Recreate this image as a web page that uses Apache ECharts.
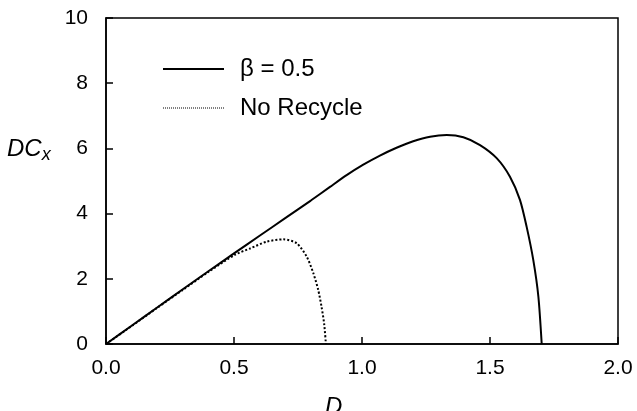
<!DOCTYPE html>
<html><head><meta charset="utf-8">
<script src="https://cdn.jsdelivr.net/npm/echarts@6/dist/echarts.min.js"></script>
<style>html,body{margin:0;padding:0;background:#fff}#c{width:637px;height:411px}</style>
</head><body><div id="c"></div>
<script>
const xTicks = ['0.0','0.5','1.0','1.5','2.0'];
const yTicks = ['0','2','4','6','8','10'];
const seriesNames = ['β = 0.5', 'No Recycle'];
const recycleD  = [0, 0.1, 0.2, 0.3, 0.4, 0.5, 0.6, 0.7, 0.8, 0.875, 0.94, 1.005, 1.07, 1.135, 1.2, 1.266, 1.331, 1.396, 1.461, 1.526, 1.578, 1.617, 1.643, 1.669, 1.689, 1.702];
const recycleDC = [0, 0.56, 1.12, 1.68, 2.23, 2.78, 3.32, 3.86, 4.40, 4.82, 5.18, 5.50, 5.78, 6.02, 6.22, 6.36, 6.41, 6.34, 6.10, 5.70, 5.13, 4.42, 3.60, 2.58, 1.45, 0];
const noRecD  = [0, 0.1, 0.2, 0.3, 0.4, 0.504, 0.5625, 0.628, 0.693, 0.745, 0.784, 0.81, 0.829, 0.842, 0.852, 0.859];
const noRecDC = [0, 0.55, 1.11, 1.66, 2.21, 2.74, 2.93, 3.14, 3.21, 3.09, 2.68, 2.17, 1.66, 1.14, 0.63, 0];

const chart = echarts.init(document.getElementById('c'), null, {renderer: 'canvas'});
const font = 'Liberation Sans, Arial, sans-serif';
chart.setOption({
  animation: false,
  backgroundColor: '#fff',
  grid: {left: 106, right: 19, top: 18, bottom: 67, show: true, borderColor: '#000', borderWidth: 1.5},
  legend: {
    orient: 'vertical', left: 157, top: 52, itemWidth: 61, itemHeight: 14, itemGap: 15,
    itemStyle: {opacity: 0},
    textStyle: {fontFamily: font, fontSize: 24, color: '#000', padding: [0,0,0,11]},
    data: [
      {name: seriesNames[0], lineStyle: {width: 2, type: 'solid'}},
      {name: seriesNames[1], lineStyle: {width: 1, type: [1, 1]}}
    ]
  },
  xAxis: {
    type: 'value', min: 0, max: 2, interval: 0.5,
    axisLine: {lineStyle: {color: '#000', width: 1.5}},
    axisTick: {inside: true, length: 7, lineStyle: {color: '#000', width: 1.5}},
    splitLine: {show: false},
    axisLabel: {fontFamily: font, fontSize: 21, color: '#000', margin: 14,
      formatter: v => xTicks[Math.round(v / 0.5)]}
  },
  yAxis: {
    type: 'value', min: 0, max: 10, interval: 2,
    axisLine: {lineStyle: {color: '#000', width: 1.5}},
    axisTick: {inside: true, length: 7, lineStyle: {color: '#000', width: 1.5}},
    splitLine: {show: false},
    axisLabel: {fontFamily: font, fontSize: 21, color: '#000', margin: 18,
      formatter: v => yTicks[Math.round(v / 2)]}
  },
  graphic: [
    {type: 'text', left: 7, top: 137, style: {
      text: '{a|DC}{b|x}', fill: '#000',
      rich: {a: {fontFamily: font, fontSize: 24, fontStyle: 'italic', fill: '#000'},
             b: {fontFamily: font, fontSize: 18, fontStyle: 'italic', fill: '#000', padding: [12,0,0,0]}}
    }},
    {type: 'text', left: 325, top: 395, style: {text: 'D', fontFamily: font, fontSize: 24, fontStyle: 'italic', fill: '#000'}}
  ],
  series: [
    {name: seriesNames[0], type: 'line', symbol: 'none', smooth: 0.25,
     lineStyle: {color: '#000', width: 2}, itemStyle: {color: '#000'},
     data: recycleD.map((d, i) => [d, recycleDC[i]])},
    {name: seriesNames[1], type: 'line', symbol: 'none', smooth: 0.25,
     lineStyle: {color: '#000', width: 2, type: [2, 2]}, itemStyle: {color: '#000'},
     data: noRecD.map((d, i) => [d, noRecDC[i]])}
  ]
});
</script></body></html>
